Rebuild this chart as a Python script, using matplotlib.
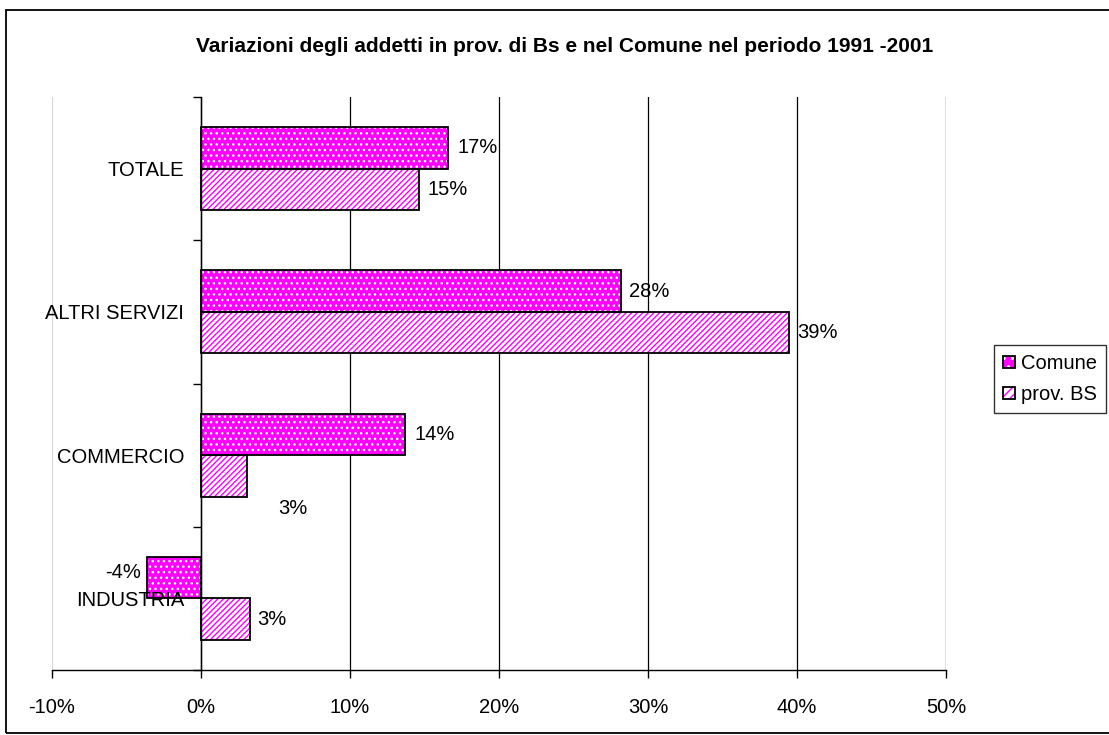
import matplotlib.pyplot as plt
from matplotlib.patches import Patch, Rectangle
import numpy as np

plt.rcParams['font.family'] = ['Liberation Sans', 'DejaVu Sans']
plt.rcParams['hatch.linewidth'] = 1.0

# data (percent change 1991-2001)
categories = ["TOTALE", "ALTRI SERVIZI", "COMMERCIO", "INDUSTRIA"]
comune = [16.6, 28.2, 13.7, -3.6]
prov_bs = [14.6, 39.45, 3.1, 3.3]
series_names = ["Comune", "prov. BS"]
xticks = [-10, 0, 10, 20, 30, 40, 50]

magenta = "#FF00FF"
bar_h = 0.29
fs = 14.5

fig = plt.figure(figsize=(11.09, 7.35), dpi=100)
ax = fig.add_axes([52 / 1109, 1 - 670 / 735, (946 - 52) / 1109, (670 - 97) / 735])

# outer chart border
fig.patches.append(Rectangle((6 / 1109, 2 / 735), 1.2, 723 / 735, transform=fig.transFigure,
                             fill=False, edgecolor="black", linewidth=1.3))

y = np.arange(len(categories))
y_com = y - bar_h / 2
y_prov = y + bar_h / 2

# gridlines behind bars
for xt in xticks[1:]:
    ax.axvline(xt, color="black", linewidth=0.9, zorder=0.5)
ax.axvline(-10, color="#d8d8d8", linewidth=0.9, zorder=0.5)

# Comune: magenta with white dots
ax.barh(y_com, comune, height=bar_h, color=magenta, edgecolor="white", hatch="...",
        linewidth=0, zorder=1)
ax.barh(y_com, comune, height=bar_h, fill=False, edgecolor="black", linewidth=1.3, zorder=1.2)
# prov. BS: white with magenta stripes
ax.barh(y_prov, prov_bs, height=bar_h, color="white", edgecolor=magenta, hatch="//////",
        linewidth=0, zorder=1)
ax.barh(y_prov, prov_bs, height=bar_h, fill=False, edgecolor="black", linewidth=1.3, zorder=1.2)

# value labels
offsets_com = [(9, 0), (8, 0), (9, 0), (-6, 5)]
offsets_prov = [(9, 0), (8, 0), (46, -33), (7, 0)]
for i in range(len(categories)):
    v = comune[i]
    dx, dy = offsets_com[i]
    ax.annotate(f"{round(v):d}%", (v, y_com[i]), xytext=(dx, dy), textcoords="offset pixels",
                ha="left" if v >= 0 else "right", va="center", fontsize=fs, zorder=3)
    v = prov_bs[i]
    dx, dy = offsets_prov[i]
    ax.annotate(f"{round(v):d}%", (v, y_prov[i]), xytext=(dx, dy), textcoords="offset pixels",
                ha="left" if dx < 30 else "center", va="center", fontsize=fs, zorder=3)

ax.set_xlim(-10, 50)
ax.set_ylim(len(categories) - 0.5, -0.5)
ax.set_xticks(xticks)
ax.set_xticklabels([f"{t}%" for t in xticks])
ax.tick_params(axis="x", length=6, width=1, pad=14, color="black", labelsize=fs)

ax.set_yticks(y)
ax.set_yticklabels(categories)
ax.set_yticks(np.arange(len(categories) + 1) - 0.5, minor=True)
ax.tick_params(axis="y", which="major", length=0, pad=12, labelsize=fs)
ax.tick_params(axis="y", which="minor", length=6, width=1, color="black")
for lbl in ax.get_yticklabels():
    lbl.set_va("center_baseline")

ax.spines["left"].set_position(("data", 0))
ax.spines["left"].set_linewidth(1)
ax.spines["bottom"].set_linewidth(1)
ax.spines["top"].set_visible(False)
ax.spines["right"].set_visible(False)
ax.patch.set_visible(False)

fig.text(565 / 1109, 1 - 46 / 735, "Variazioni degli addetti in prov. di Bs e nel Comune nel periodo 1991 -2001",
         ha="center", va="center", fontsize=15, fontweight="bold")

h_com = (Patch(facecolor=magenta, edgecolor="white", hatch="..", linewidth=0),
         Patch(fill=False, edgecolor="black", linewidth=1.3))
h_prov = (Patch(facecolor="white", edgecolor=magenta, hatch="////", linewidth=0),
          Patch(fill=False, edgecolor="black", linewidth=1.3))
leg = fig.legend([h_com, h_prov], series_names, loc="upper left",
                 bbox_to_anchor=(994 / 1109, 1 - 345 / 735), fontsize=fs, frameon=True,
                 fancybox=False, edgecolor="black", handlelength=0.6, handleheight=0.6,
                 handletextpad=0.3, borderpad=0.45, labelspacing=0.6, borderaxespad=0)
leg.get_frame().set_linewidth(1)

fig.savefig("out.png", dpi=100)
